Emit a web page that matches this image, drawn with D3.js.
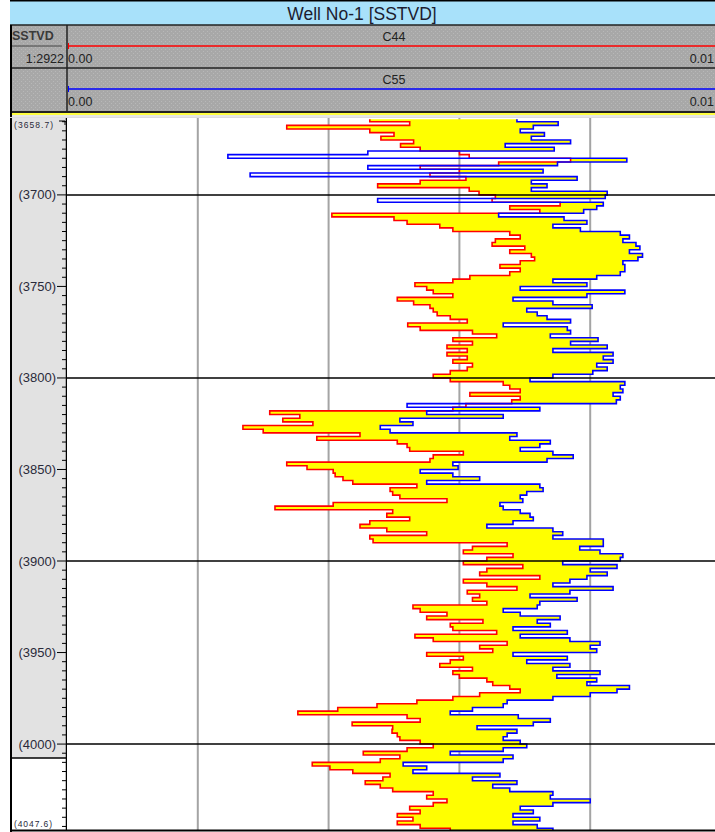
<!DOCTYPE html>
<html><head><meta charset="utf-8">
<script src="https://cdn.jsdelivr.net/npm/d3@7"></script>
<style>html,body{margin:0;padding:0;background:#fff;}svg{display:block;font-family:"Liberation Sans",Arial,sans-serif;}</style>
</head><body><div id="chart"></div>
<script>
// ---------- data ----------
const TITLE = "Well No-1 [SSTVD]";
const DEPTH_TOP = 3658.7, DEPTH_BOTTOM = 4047.6;
const SAMPLE_START = 3659, SAMPLE_STEP = 2;   // depth of first sample, sample spacing (m)
const DEPTH_LABELS = [3700, 3750, 3800, 3850, 3900, 3950, 4000];
const MAJOR_LINES = [3700, 3800, 3900, 4000];
const X_GRID = [0.002, 0.004, 0.006, 0.008];
const SCALE_LABELS = ["0.00", "0.01"];
const CURVE_NAMES = ["C44", "C55"];
const C44 = [
0.00463,0.00524,0.00336,0.00463,0.00500,0.00480,0.00530,0.00510,0.00540,0.00600,
0.00615,0.00770,0.00660,0.00540,0.00600,0.00555,0.00610,0.00540,0.00475,0.00615,
0.00630,0.00655,0.00650,0.00754,0.00677,0.00723,0.00405,0.00500,0.00520,0.00570,
0.00590,0.00677,0.00693,0.00655,0.00650,0.00700,0.00677,0.00710,0.00715,0.00693,
0.00662,0.00693,0.00677,0.00616,0.00590,0.00532,0.00550,0.00560,0.00590,0.00505,
0.00530,0.00555,0.00560,0.00566,0.00586,0.00612,0.00521,0.00540,0.00620,0.00657,
0.00590,0.00620,0.00581,0.00612,0.00581,0.00612,0.00590,0.00620,0.00612,0.00586,
0.00560,0.00586,0.00667,0.00677,0.00693,0.00616,0.00693,0.00680,0.00610,0.00590,
0.00310,0.00356,0.00330,0.00376,0.00269,0.00300,0.00448,0.00382,0.00505,0.00520,
0.00524,0.00606,0.00560,0.00555,0.00336,0.00367,0.00407,0.00410,0.00422,0.00437,
0.00535,0.00494,0.00498,0.00509,0.00581,0.00407,0.00318,0.00498,0.00489,0.00524,
0.00463,0.00448,0.00489,0.00550,0.00463,0.00468,0.00673,0.00620,0.00606,0.00682,
0.00642,0.00606,0.00697,0.00642,0.00631,0.00723,0.00606,0.00642,0.00688,0.00612,
0.00631,0.00620,0.00642,0.00529,0.00540,0.00581,0.00550,0.00636,0.00586,0.00590,
0.00657,0.00532,0.00560,0.00673,0.00631,0.00651,0.00550,0.00606,0.00586,0.00570,
0.00620,0.00590,0.00600,0.00642,0.00651,0.00677,0.00693,0.00631,0.00590,0.00535,
0.00474,0.00414,0.00353,0.00520,0.00540,0.00436,0.00498,0.00497,0.00505,0.00509,
0.00540,0.00560,0.00520,0.00453,0.00509,0.00479,0.00375,0.00402,0.00437,0.00494,
0.00483,0.00456,0.00479,0.00498,0.00560,0.00550,0.00581,0.00560,0.00524,0.00540,
0.00505,0.00529,0.00505,0.00540,0.00586
];
const C55 = [
0.00688,0.00751,0.00713,0.00693,0.00730,0.00710,0.00770,0.00670,0.00745,0.00460,
0.00246,0.00856,0.00750,0.00460,0.00728,0.00280,0.00780,0.00710,0.00734,0.00710,
0.00826,0.00823,0.00475,0.00820,0.00810,0.00790,0.00660,0.00760,0.00795,0.00743,
0.00785,0.00846,0.00860,0.00850,0.00870,0.00876,0.00860,0.00880,0.00873,0.00850,
0.00853,0.00853,0.00846,0.00810,0.00743,0.00795,0.00693,0.00853,0.00795,0.00682,
0.00743,0.00803,0.00703,0.00719,0.00734,0.00770,0.00667,0.00765,0.00770,0.00739,
0.00812,0.00770,0.00826,0.00743,0.00835,0.00820,0.00835,0.00810,0.00826,0.00804,
0.00743,0.00708,0.00853,0.00846,0.00850,0.00835,0.00846,0.00840,0.00520,0.00723,
0.00550,0.00667,0.00509,0.00529,0.00479,0.00494,0.00688,0.00677,0.00739,0.00723,
0.00693,0.00743,0.00774,0.00734,0.00590,0.00598,0.00540,0.00590,0.00631,0.00550,
0.00723,0.00728,0.00703,0.00693,0.00697,0.00662,0.00667,0.00693,0.00708,0.00713,
0.00682,0.00642,0.00743,0.00758,0.00743,0.00820,0.00820,0.00784,0.00815,0.00850,
0.00846,0.00758,0.00841,0.00800,0.00826,0.00795,0.00769,0.00743,0.00835,0.00769,
0.00708,0.00780,0.00723,0.00719,0.00667,0.00693,0.00754,0.00719,0.00739,0.00682,
0.00765,0.00693,0.00769,0.00815,0.00800,0.00810,0.00682,0.00765,0.00703,0.00769,
0.00743,0.00815,0.00749,0.00810,0.00795,0.00860,0.00841,0.00800,0.00743,0.00673,
0.00667,0.00620,0.00586,0.00690,0.00739,0.00713,0.00627,0.00688,0.00673,0.00667,
0.00693,0.00703,0.00667,0.00586,0.00682,0.00667,0.00514,0.00550,0.00529,0.00662,
0.00620,0.00688,0.00651,0.00677,0.00743,0.00739,0.00800,0.00743,0.00693,0.00713,
0.00682,0.00723,0.00682,0.00719,0.00743
];

// ---------- layout ----------
const W = 715, H = 832;
const L = 10, DC = 67;            // outer left edge, depth column right edge
const TITLE_H = 25, ROW1 = 25, ROW2 = 68, HEAD_B = 112;
const TRACK_T = 118, TRACK_B = 831;

const svg = d3.select("#chart").append("svg").attr("width", W).attr("height", H);
const defs = svg.append("defs");
const pat = defs.append("pattern").attr("id", "stip").attr("width", 4).attr("height", 4)
  .attr("patternUnits", "userSpaceOnUse");
pat.append("rect").attr("width", 4).attr("height", 4).attr("fill", "#a8a8a8");
pat.append("rect").attr("x", 1).attr("y", 1).attr("width", 1).attr("height", 1).attr("fill", "#b8b8b8");
pat.append("rect").attr("x", 3).attr("y", 3).attr("width", 1).attr("height", 1).attr("fill", "#b8b8b8");
defs.append("clipPath").attr("id", "trk").append("rect")
  .attr("x", DC).attr("y", TRACK_T).attr("width", W - DC).attr("height", TRACK_B - TRACK_T);

const y = d3.scaleLinear().domain([DEPTH_TOP, DEPTH_BOTTOM]).range([119.3, 831.2]);
const x = d3.scaleLinear().domain([0, 0.01]).range([DC, 721]);

// title bar
svg.append("rect").attr("x", L).attr("y", 0).attr("width", W - L).attr("height", TITLE_H).attr("fill", "#a8e1fa");
svg.append("line").attr("x1", L).attr("x2", W).attr("y1", 0.5).attr("y2", 0.5).attr("stroke", "#000").attr("stroke-width", 2);
svg.append("text").attr("x", 362).attr("y", 19.5).attr("text-anchor", "middle")
  .attr("font-size", 17.5).attr("fill", "#1c1c30").text(TITLE);

// header
svg.append("rect").attr("x", L).attr("y", TITLE_H).attr("width", W - L).attr("height", HEAD_B - TITLE_H).attr("fill", "url(#stip)");
[TITLE_H, ROW2, HEAD_B].forEach(yy => svg.append("line").attr("x1", L).attr("x2", W)
  .attr("y1", yy).attr("y2", yy).attr("stroke", "#222").attr("stroke-width", yy === HEAD_B ? 2 : 1.3));
svg.append("line").attr("x1", L).attr("x2", W).attr("y1", HEAD_B + 2).attr("y2", HEAD_B + 2).attr("stroke", "#ffff00").attr("stroke-width", 1.5);
svg.append("rect").attr("x", L).attr("y", HEAD_B + 3).attr("width", W - L).attr("height", TRACK_T - HEAD_B - 3).attr("fill", "#e6e6e6");
svg.append("line").attr("x1", DC).attr("x2", DC).attr("y1", TITLE_H).attr("y2", HEAD_B).attr("stroke", "#222").attr("stroke-width", 1.5);
svg.append("text").attr("x", 12).attr("y", 40).attr("font-size", 12.5).attr("font-weight", "bold").attr("fill", "#3a3a3a").text("SSTVD");
svg.append("line").attr("x1", 12).attr("x2", 62).attr("y1", 46).attr("y2", 46).attr("stroke", "#444").attr("stroke-width", 1);
svg.append("text").attr("x", 64).attr("y", 63).attr("text-anchor", "end").attr("font-size", 12.5).attr("fill", "#222").text("1:2922");

const curveColors = ["#ff0000", "#0000ff"];
CURVE_NAMES.forEach((name, k) => {
  const top = k === 0 ? ROW1 : ROW2;
  svg.append("text").attr("x", 394).attr("y", top + 16).attr("text-anchor", "middle")
    .attr("font-size", 12.5).attr("fill", "#222").text(name);
  svg.append("line").attr("x1", DC + 1).attr("x2", W).attr("y1", top + 21).attr("y2", top + 21)
    .attr("stroke", curveColors[k]).attr("stroke-width", 1.5);
  svg.append("line").attr("x1", DC + 1.5).attr("x2", DC + 1.5).attr("y1", top + 18).attr("y2", top + 24)
    .attr("stroke", curveColors[k]).attr("stroke-width", 1);
  svg.append("text").attr("x", DC + 1).attr("y", top + 37.5).attr("font-size", 12.5).attr("fill", "#222").text(SCALE_LABELS[0]);
  svg.append("text").attr("x", W - 1).attr("y", top + 37.5).attr("text-anchor", "end").attr("font-size", 12.5).attr("fill", "#222").text(SCALE_LABELS[1]);
});

// depth column
svg.append("rect").attr("x", L).attr("y", TRACK_T).attr("width", DC - L).attr("height", 758 - TRACK_T).attr("fill", "#e2e2e2");
svg.append("line").attr("x1", L).attr("x2", DC).attr("y1", 758).attr("y2", 758).attr("stroke", "#000").attr("stroke-width", 1.5);
svg.append("line").attr("x1", L + 1).attr("x2", L + 1).attr("y1", TITLE_H).attr("y2", H).attr("stroke", "#000").attr("stroke-width", 2);
svg.append("line").attr("x1", DC - 0.5).attr("x2", DC - 0.5).attr("y1", TRACK_T).attr("y2", TRACK_B).attr("stroke", "#000").attr("stroke-width", 1.5);

const minor = d3.range(3660, 4048, 5);
svg.append("g").selectAll("line").data(minor).join("line")
  .attr("x1", d => d % 50 === 0 ? 57 : 62).attr("x2", DC).attr("y1", d => y(d)).attr("y2", d => y(d))
  .attr("stroke", "#000").attr("stroke-width", 1);
svg.append("g").selectAll("text").data(DEPTH_LABELS).join("text")
  .attr("x", 56).attr("y", d => y(d) + 4.5).attr("text-anchor", "end").attr("font-size", 13)
  .attr("fill", "#2a2a3a").text(d => "(" + d + ")");
svg.append("text").attr("x", 14).attr("y", 128).attr("font-size", 8.5).attr("textLength", 39).attr("fill", "#2a2a3a").text("(" + DEPTH_TOP + ")");
svg.append("text").attr("x", 14).attr("y", 827).attr("font-size", 8.5).attr("textLength", 38).attr("fill", "#2a2a3a").text("(" + DEPTH_BOTTOM + ")");
svg.append("line").attr("x1", 59).attr("x2", 65).attr("y1", 121).attr("y2", 121).attr("stroke", "#000");
svg.append("line").attr("x1", 65).attr("x2", 65).attr("y1", 121).attr("y2", 125).attr("stroke", "#000");

// track
const trk = svg.append("g");
trk.append("rect").attr("x", DC).attr("y", TRACK_T).attr("width", W - DC).attr("height", TRACK_B - TRACK_T).attr("fill", "#fff");
trk.selectAll("line.g").data(X_GRID).join("line").attr("class", "g")
  .attr("x1", d => x(d)).attr("x2", d => x(d)).attr("y1", TRACK_T).attr("y2", TRACK_B)
  .attr("stroke", "#a4a4a4").attr("stroke-width", 2);

// step points
const pts = [];
C44.forEach((r, i) => {
  const d = SAMPLE_START + i * SAMPLE_STEP;
  const b = C55[i];
  pts.push({ d: Math.max(DEPTH_TOP, d - SAMPLE_STEP / 2), r, b });
  pts.push({ d: Math.min(DEPTH_BOTTOM, d + SAMPLE_STEP / 2), r, b });
});
const cg = svg.append("g").attr("clip-path", "url(#trk)");
cg.append("path").datum(pts).attr("fill", "#ffff00")
  .attr("d", d3.area().y(p => y(p.d)).x0(p => x(p.r)).x1(p => x(Math.max(p.r, p.b))));
cg.append("path").datum(pts).attr("fill", "none").attr("stroke", "#ff0000").attr("stroke-width", 1.6)
  .attr("d", d3.line().x(p => x(p.r)).y(p => y(p.d)));
cg.append("path").datum(pts).attr("fill", "none").attr("stroke", "#0000ff").attr("stroke-width", 1.6)
  .attr("d", d3.line().x(p => x(p.b)).y(p => y(p.d)));

svg.append("g").selectAll("line").data(MAJOR_LINES).join("line")
  .attr("x1", DC).attr("x2", W).attr("y1", d => y(d)).attr("y2", d => y(d))
  .attr("stroke", "#000").attr("stroke-width", 1.5);
svg.append("line").attr("x1", L).attr("x2", W).attr("y1", 830.5).attr("y2", 830.5).attr("stroke", "#000").attr("stroke-width", 2);
svg.append("line").attr("x1", L).attr("x2", W).attr("y1", TRACK_T - 0.5).attr("y2", TRACK_T - 0.5).attr("stroke", "#ddd").attr("stroke-width", 1);
</script></body></html>
